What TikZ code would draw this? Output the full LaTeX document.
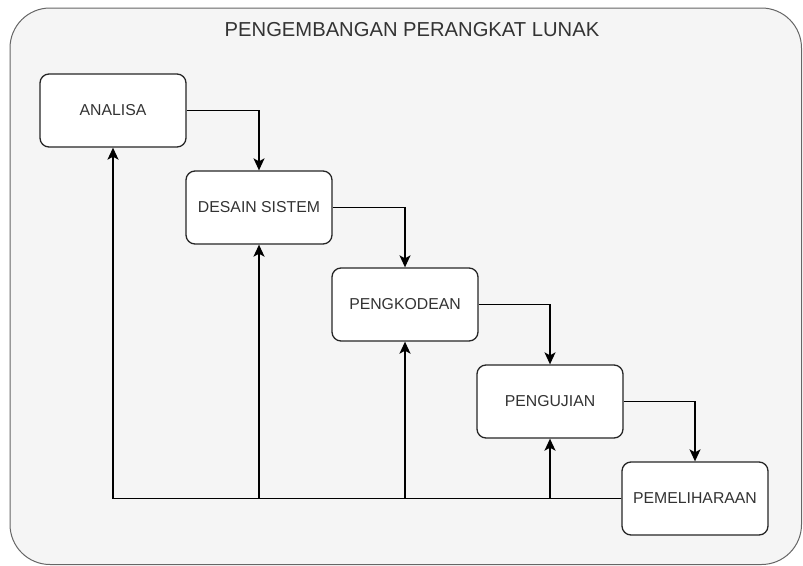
\documentclass[tikz,border=0pt]{standalone}
\usepackage{fontspec}
\setmainfont{Liberation Sans}
\usetikzlibrary{positioning,arrows.meta}

\begin{document}
\begin{tikzpicture}[
  x=1pt, y=-1pt,
  font=\fontsize{15.8}{18}\selectfont, >={Stealth[length=12pt,width=11pt,inset=3pt]},
  phase/.style={draw=black!85, line width=1.3pt, rounded corners=9pt, fill=white,
                text=black!80, minimum width=146pt, minimum height=73pt, inner sep=0pt},
  arr/.style={->, line width=1.4pt},
  back/.style={->, line width=1.9pt},
]
\useasboundingbox (0,0) rectangle (803,565);
\draw[draw=black!60, fill=black!4, line width=1pt, rounded corners=40pt]
  (10,8) rectangle (801.5,564.5);
\node[font=\fontsize{20.2}{24}\selectfont, text=black!80] (t) at (412,30)
  {PENGEMBANGAN PERANGKAT LUNAK};

\node[phase] (a) at (113,110.5) {ANALISA};
\node[phase] (b) at (259,207.5) {DESAIN SISTEM};
\node[phase] (c) at (405,304.5) {PENGKODEAN};
\node[phase] (d) at (550,401.5) {PENGUJIAN};
\node[phase] (e) at (695,498.5) {PEMELIHARAAN};

\draw[arr] (a.east) -| (b.north); \draw[arr] (b.east) -| (c.north);
\draw[arr] (c.east) -| (d.north); \draw[arr] (d.east) -| (e.north);
% umpan balik
\draw[back] (e.west) -| (a.south);
\draw[back] (e.west) -| (b.south);
\draw[back] (e.west) -| (c.south);
\draw[back] (e.west) -| (d.south);
\end{tikzpicture}
\end{document}
